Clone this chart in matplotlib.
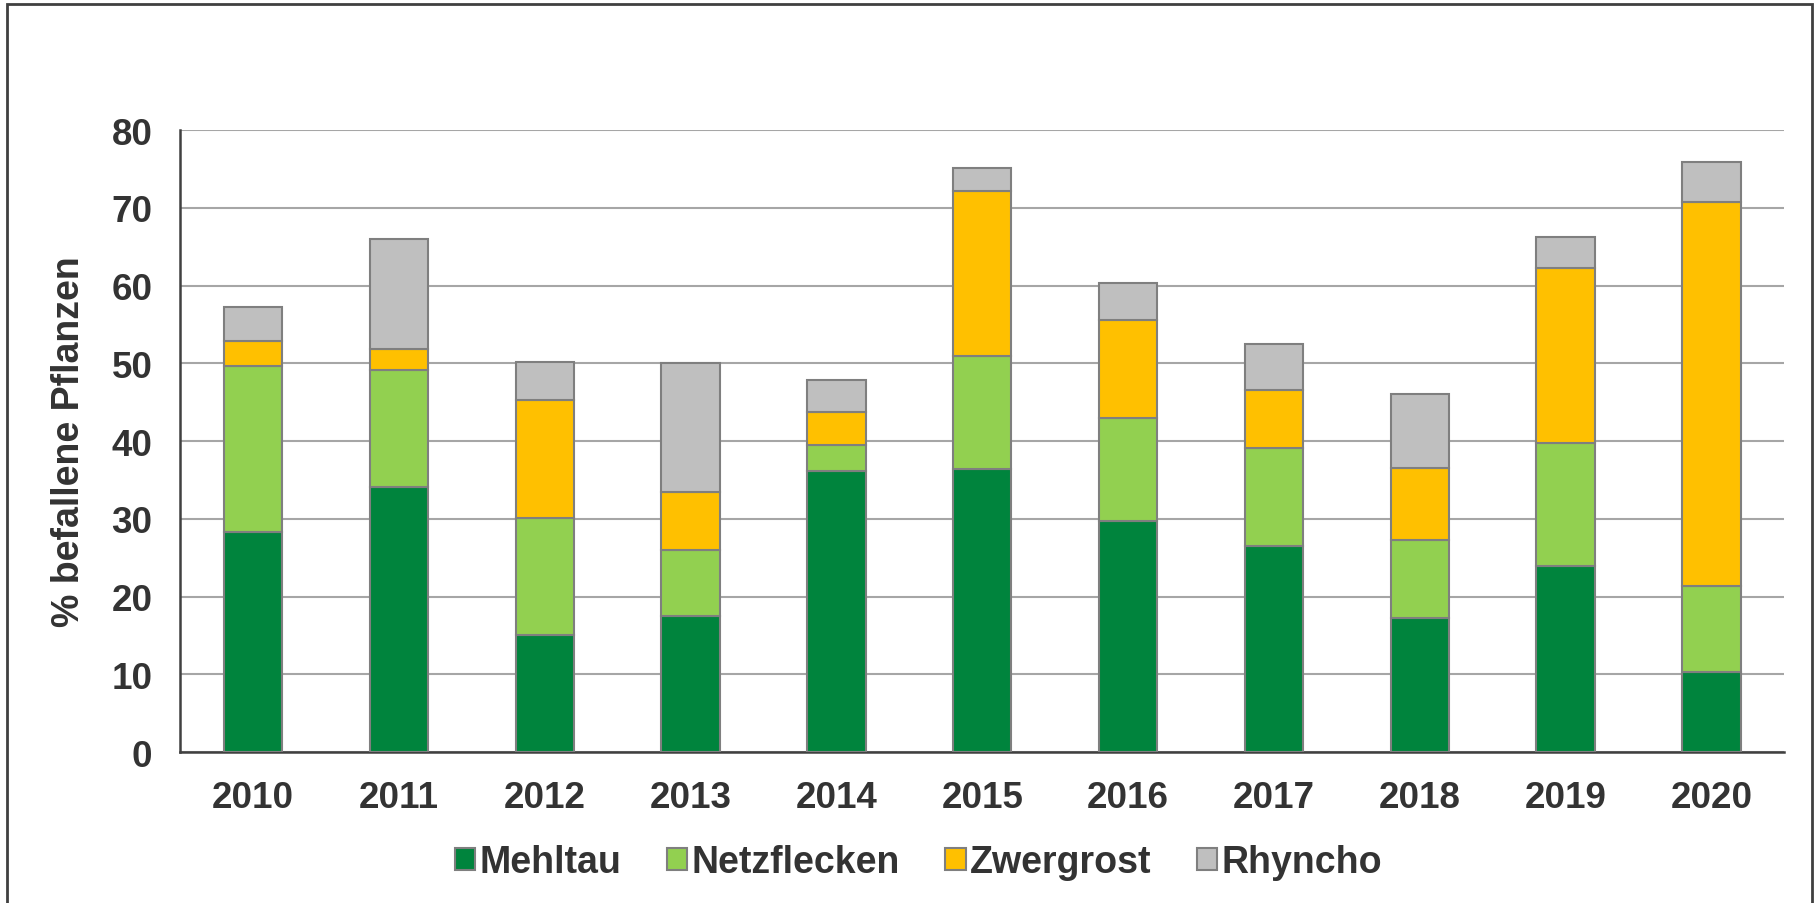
import matplotlib
matplotlib.use('Agg')
import matplotlib.pyplot as plt
import numpy as np
from matplotlib.patches import Rectangle

## Data
years = ['2010', '2011', '2012', '2013', '2014', '2015', '2016', '2017', '2018', '2019', '2020']
series_names = ['Mehltau', 'Netzflecken', 'Zwergrost', 'Rhyncho']

# cumulative tops of each stacked segment
mehltau_top = [28.3, 34.1, 15.0, 17.5, 36.1, 36.4, 29.7, 26.5, 17.3, 23.9, 10.3]
netz_top = [49.6, 49.1, 30.1, 26.0, 39.5, 50.9, 43.0, 39.1, 27.3, 39.7, 21.4]
zwerg_top = [52.9, 51.9, 45.3, 33.4, 43.7, 72.1, 55.6, 46.6, 36.5, 62.3, 70.7]
rhyncho_top = [57.2, 66.0, 50.2, 50.0, 47.8, 75.1, 60.3, 52.5, 46.1, 66.2, 75.9]

colors = ['#00843D', '#92D050', '#FFC000', '#BFBFBF']
text_color = '#333333'

plt.rcParams['font.family'] = ['Liberation Sans', 'DejaVu Sans']
plt.rcParams['font.weight'] = 'bold'

fig = plt.figure(figsize=(18.19, 9.04), dpi=100)
ax = fig.add_axes([0.099, 0.167, 0.882, 0.688])

x = np.arange(len(years))
tops = [np.array(mehltau_top), np.array(netz_top), np.array(zwerg_top), np.array(rhyncho_top)]
bottom = np.zeros(len(years))
for name, top, col in zip(series_names, tops, colors):
    ax.bar(x, top - bottom, width=0.4, bottom=bottom, color=col,
           edgecolor='#7F7F7F', linewidth=1.5, label=name, zorder=3)
    bottom = top

ax.set_xlim(-0.5, len(years) - 0.5)
ax.set_ylim(0, 80)
ax.set_yticks(np.arange(0, 81, 10))
ax.set_xticks(x)
ax.set_xticklabels(years)
ax.tick_params(axis='both', length=0, labelsize=26.5, colors=text_color)
ax.tick_params(axis='y', pad=20)
ax.tick_params(axis='x', pad=20)
ax.yaxis.grid(True, color='#A6A6A6', linewidth=1.5, zorder=0)
ax.set_axisbelow(True)

for side in ['top', 'right']:
    ax.spines[side].set_visible(False)
for side in ['left', 'bottom']:
    ax.spines[side].set_color('#404040')
    ax.spines[side].set_linewidth(1.8)

ax.set_ylabel('% befallene Pflanzen', fontsize=27, fontweight='bold', color=text_color)
ax.yaxis.set_label_coords(-0.058, 0.5)

leg = fig.legend(loc='center', bbox_to_anchor=(0.505, 0.045), ncol=4, frameon=False,
                 fontsize=27, handlelength=0.55, handleheight=0.55, handletextpad=0.12,
                 columnspacing=1.2)
for t in leg.get_texts():
    t.set_color(text_color)

# outer frame around the chart
fig.patches.append(Rectangle((0.004, -0.01), 0.992, 1.004, transform=fig.transFigure,
                             fill=False, edgecolor='#404040', linewidth=2))

fig.savefig('out.png', dpi=100)
